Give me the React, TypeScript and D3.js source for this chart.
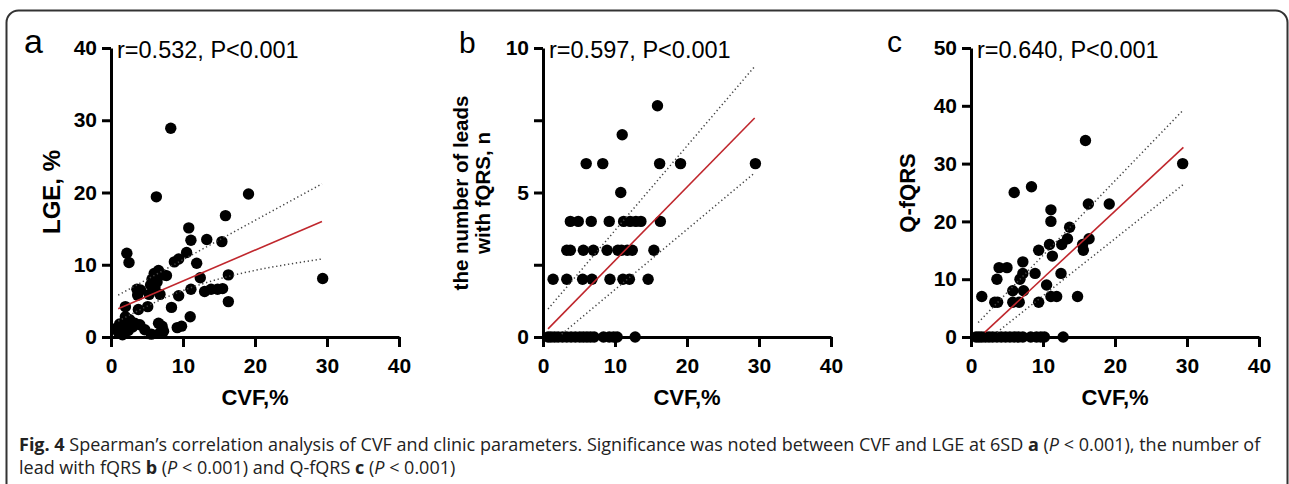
import React, { useEffect, useRef } from "react";
import * as d3 from "d3";

type Pt = [number, number];

// a: CVF (%) vs LGE (%)
const lgePoints: Pt[] = [
  [8.3, 28.9], [6.3, 19.4], [19.1, 19.8], [15.9, 16.8], [10.8, 15.1], [11.1, 13.4],
  [13.3, 13.5], [15.4, 13.2], [2.2, 11.6], [2.5, 10.3], [10.5, 11.7], [9.4, 10.8],
  [8.8, 10.4], [11.9, 10.2], [6.0, 8.8], [6.6, 9.2], [7.3, 8.6], [5.7, 8.0],
  [6.4, 7.6], [5.5, 7.2], [6.1, 6.8], [7.7, 8.5], [12.4, 8.2], [16.3, 8.6],
  [29.4, 8.1], [11.1, 6.6], [13.0, 6.3], [13.9, 6.6], [14.8, 6.6], [15.5, 6.7],
  [16.3, 4.9], [3.6, 6.6], [4.1, 6.5], [3.7, 5.8], [6.8, 5.9], [5.3, 5.9],
  [9.4, 5.7], [2.0, 4.2], [3.8, 3.8], [5.1, 4.2], [8.4, 4.1], [11.0, 2.8],
  [9.8, 1.5], [9.2, 1.3], [6.6, 1.9], [7.1, 1.5], [7.3, 0.8], [6.8, 0.6],
  [5.6, 0.4], [3.3, 1.9], [4.0, 1.7], [4.7, 1.0], [2.6, 2.4], [2.0, 2.8],
  [1.8, 1.3], [1.2, 1.8], [1.0, 0.7], [1.6, 0.3], [2.4, 0.9], [0.7, 1.2], [3.0, 1.4],
];

// b: CVF (%) vs number of leads with fQRS
const leadsPoints: Pt[] = [
  [15.9, 8], [11.0, 7],
  [6.0, 6], [8.3, 6], [16.2, 6], [19.1, 6], [29.5, 6],
  [10.8, 5],
  [3.8, 4], [4.9, 4], [6.7, 4], [9.2, 4], [11.2, 4], [12.1, 4], [12.9, 4], [13.6, 4], [16.3, 4],
  [3.3, 3], [3.8, 3], [5.6, 3], [7.0, 3], [8.9, 3], [10.4, 3], [10.9, 3], [11.7, 3], [12.4, 3], [15.4, 3],
  [1.4, 2], [3.3, 2], [5.5, 2], [6.8, 2], [9.3, 2], [11.1, 2], [12.0, 2], [14.6, 2],
  [0.7, 0], [1.1, 0], [1.6, 0], [2.1, 0], [2.7, 0], [3.3, 0], [3.9, 0], [4.5, 0], [5.1, 0],
  [5.6, 0], [6.1, 0], [6.6, 0], [7.1, 0], [8.4, 0], [9.2, 0], [9.8, 0], [10.3, 0], [12.8, 0],
];

// c: CVF (%) vs Q-fQRS
const qfqrsPoints: Pt[] = [
  [6.0, 25], [8.4, 26], [16.3, 23], [19.2, 23], [11.1, 22], [11.1, 20], [13.7, 19],
  [13.4, 17], [12.6, 16], [10.9, 16], [9.4, 15], [11.3, 14], [16.4, 17], [15.5, 16],
  [15.6, 15], [15.9, 34], [29.4, 30], [7.2, 13], [3.9, 12], [5.0, 12], [3.6, 10],
  [7.2, 11], [6.8, 10], [8.9, 11], [12.5, 11], [10.5, 9], [5.8, 8], [7.3, 8],
  [1.5, 7], [3.3, 6], [3.7, 6], [5.8, 6], [6.7, 6], [9.4, 6], [11.1, 7], [11.9, 7], [14.8, 7],
  [0.7, 0], [1.1, 0], [1.5, 0], [2.0, 0], [2.5, 0], [3.0, 0], [3.6, 0], [4.2, 0], [4.8, 0],
  [5.4, 0], [6.0, 0], [6.6, 0], [7.2, 0], [8.3, 0], [9.1, 0], [9.7, 0], [10.2, 0], [12.8, 0],
];

// fitted line and dotted confidence band
const lgeFit: Pt[] = [[1.0, 3.9], [29.3, 16.0]];
const lgeUpper: Pt[] = [[1.0, 5.8], [29.3, 21.2]];
const lgeLower: Pt[] = [[1.0, 2.2], [7.0, 5.2], [29.3, 10.8]];

const leadsFit: Pt[] = [[0.7, 0.28], [29.4, 7.58]];
const leadsUpper: Pt[] = [[0.7, 0.97], [29.4, 9.36]];
const leadsLower: Pt[] = [[2.6, 0.1], [29.4, 5.68]];

const qfqrsFit: Pt[] = [[1.9, 0.8], [29.5, 32.8]];
const qfqrsUpper: Pt[] = [[1.0, 2.5], [29.5, 39.3]];
const qfqrsLower: Pt[] = [[3.6, 0.8], [29.5, 26.4]];

const xTicks = [0, 10, 20, 30, 40];
const lgeTicks = [0, 10, 20, 30, 40];
const leadsTicks = [0, 5, 10];
const leadsMinor = [2.5, 7.5];
const qfqrsTicks = [0, 10, 20, 30, 40, 50];

const FONT = "'Liberation Sans', Arial, Helvetica, sans-serif";
const TOP = 48;
const BOTTOM = 337;
const AXIS_W = 288;

function Panel(props: any) {
  const ref = useRef<SVGGElement>(null);
  const { x0, yMax, yTicks, minor, points, fit, upper, lower, stat } = props;

  useEffect(() => {
    const g = d3.select(ref.current);
    g.selectAll("*").remove();

    const x = d3.scaleLinear().domain([0, 40]).range([x0, x0 + AXIS_W]);
    const y = d3.scaleLinear().domain([0, yMax]).range([BOTTOM, TOP]);

    const styleAxis = (a: any) => {
      a.attr("font-family", FONT).attr("font-size", 21).attr("font-weight", "bold");
      a.selectAll("path, line").attr("stroke", "#000").attr("stroke-width", 3);
      a.selectAll("text").attr("fill", "#000");
    };

    g.append("g")
      .attr("transform", `translate(0,${BOTTOM})`)
      .call(d3.axisBottom(x).tickValues(xTicks).tickSize(10).tickSizeOuter(0).tickPadding(11))
      .call(styleAxis);

    const all = [...yTicks, ...(minor || [])];
    g.append("g")
      .attr("transform", `translate(${x0},0)`)
      .call(
        d3.axisLeft(y)
          .tickValues(all)
          .tickSize(9)
          .tickSizeOuter(0)
          .tickPadding(5)
          .tickFormat((d: any) => (yTicks.includes(d) ? String(d) : ""))
      )
      .call(styleAxis);

    g.append("g")
      .selectAll("circle")
      .data(points)
      .join("circle")
      .attr("cx", (d: any) => x(d[0]))
      .attr("cy", (d: any) => y(d[1]))
      .attr("r", 5.7)
      .attr("fill", "#000");

    const line = d3
      .line<Pt>()
      .x((d) => x(d[0]))
      .y((d) => y(d[1]))
      .curve(d3.curveMonotoneX);

    [upper, lower].forEach((band: Pt[]) => {
      g.append("path")
        .attr("d", line(band))
        .attr("fill", "none")
        .attr("stroke", "#444")
        .attr("stroke-width", 1.5)
        .attr("stroke-dasharray", "1.3,2.7");
    });

    g.append("path")
      .attr("d", line(fit))
      .attr("fill", "none")
      .attr("stroke", "#c0272d")
      .attr("stroke-width", 1.6);

    g.append("text")
      .attr("x", x0 + 6)
      .attr("y", 58)
      .attr("font-family", FONT)
      .attr("font-size", 23.5)
      .attr("fill", "#000")
      .text(stat);
  }, []);

  return <g ref={ref} />;
}

export default function App() {
  const capStyle = { fontFamily: "'Open Sans', 'Noto Sans', sans-serif", fontSize: 18, fill: "#222" };
  const bold = { fontWeight: "bold" as const };
  const ital = { fontStyle: "italic" as const };
  const axisLabel = { fontFamily: FONT, fontWeight: "bold" as const, fill: "#000" };

  return (
    <svg
      width={1289}
      height={484}
      style={{ position: "absolute", left: 0, top: 0, background: "#fff" }}
    >
      <rect x={6.5} y={10.5} width={1281} height={500} rx={12} fill="none" stroke="#333" strokeWidth={2} />

      <text x={24} y={53} fontFamily={FONT} fontSize={34} fill="#000">a</text>
      <text x={459} y={53} fontFamily={FONT} fontSize={30} fill="#000">b</text>
      <text x={887} y={52} fontFamily={FONT} fontSize={30} fill="#000">c</text>

      <Panel x0={111} yMax={40} yTicks={lgeTicks} points={lgePoints} fit={lgeFit} upper={lgeUpper} lower={lgeLower} stat="r=0.532, P<0.001" />
      <Panel x0={543} yMax={10} yTicks={leadsTicks} minor={leadsMinor} points={leadsPoints} fit={leadsFit} upper={leadsUpper} lower={leadsLower} stat="r=0.597, P<0.001" />
      <Panel x0={971} yMax={50} yTicks={qfqrsTicks} points={qfqrsPoints} fit={qfqrsFit} upper={qfqrsUpper} lower={qfqrsLower} stat="r=0.640, P<0.001" />

      <text transform="translate(60,192) rotate(-90)" textAnchor="middle" fontSize={24} style={axisLabel}>LGE, %</text>
      <text transform="translate(468,193) rotate(-90)" textAnchor="middle" fontSize={20.5} style={axisLabel}>the number of leads</text>
      <text transform="translate(490,193) rotate(-90)" textAnchor="middle" fontSize={20.5} style={axisLabel}>with fQRS, n</text>
      <text transform="translate(915,193) rotate(-90)" textAnchor="middle" fontSize={22} style={axisLabel}>Q-fQRS</text>

      <text x={255} y={405} textAnchor="middle" fontSize={22} style={axisLabel}>CVF,%</text>
      <text x={687} y={405} textAnchor="middle" fontSize={22} style={axisLabel}>CVF,%</text>
      <text x={1115} y={405} textAnchor="middle" fontSize={22} style={axisLabel}>CVF,%</text>

      <text x={19} y={451} style={capStyle}>
        <tspan style={bold}>Fig. 4</tspan>
        <tspan>{" Spearman’s correlation analysis of CVF and clinic parameters. Significance was noted between CVF and LGE at 6SD "}</tspan>
        <tspan style={bold}>a</tspan>
        <tspan>{" ("}</tspan>
        <tspan style={ital}>P</tspan>
        <tspan>{" < 0.001), the number of"}</tspan>
      </text>
      <text x={19} y={474} style={capStyle}>
        <tspan>{"lead with fQRS "}</tspan>
        <tspan style={bold}>b</tspan>
        <tspan>{" ("}</tspan>
        <tspan style={ital}>P</tspan>
        <tspan>{" < 0.001) and Q-fQRS "}</tspan>
        <tspan style={bold}>c</tspan>
        <tspan>{" ("}</tspan>
        <tspan style={ital}>P</tspan>
        <tspan>{" < 0.001)"}</tspan>
      </text>
    </svg>
  );
}
